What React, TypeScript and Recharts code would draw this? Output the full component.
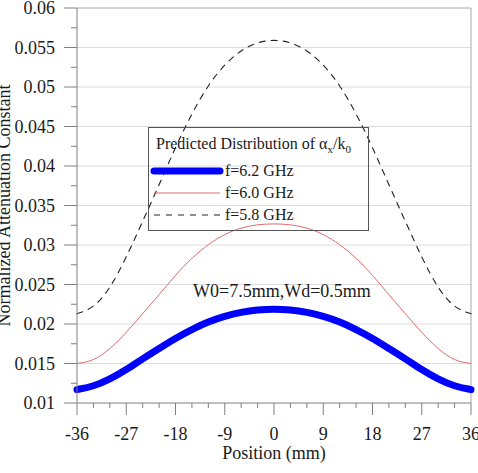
import { LineChart, Line, XAxis, YAxis, ReferenceLine, Legend } from "recharts";

// position across the slot (mm)
const positions = [
  -36, -33, -30, -27, -24, -21, -18, -15, -12, -9, -6, -3, 0, 3, 6, 9, 12, 15,
  18, 21, 24, 27, 30, 33, 36,
];

// normalized attenuation constant
const f62 = [
  0.0117, 0.0121, 0.013, 0.0142, 0.0156, 0.0169, 0.0182, 0.0193, 0.0203,
  0.021, 0.0215, 0.0218, 0.0219, 0.0218, 0.0215, 0.021, 0.0203, 0.0193,
  0.0182, 0.0169, 0.0156, 0.0142, 0.013, 0.0121, 0.0117,
];
const f60 = [
  0.015, 0.0153, 0.0168, 0.0189, 0.0213, 0.0237, 0.0262, 0.0284, 0.0301,
  0.0314, 0.0322, 0.0326, 0.0327, 0.0326, 0.0322, 0.0314, 0.0301, 0.0284,
  0.0262, 0.0237, 0.0213, 0.0189, 0.0168, 0.0153, 0.015,
];
const f58 = [
  0.0213, 0.022, 0.0244, 0.0284, 0.033, 0.0376, 0.0424, 0.0467, 0.0503,
  0.0529, 0.0547, 0.0557, 0.056, 0.0557, 0.0547, 0.0529, 0.0503, 0.0467,
  0.0424, 0.0376, 0.033, 0.0284, 0.0244, 0.022, 0.0213,
];

const xTicks = [
  -36, -33, -30, -27, -24, -21, -18, -15, -12, -9, -6, -3, 0, 3, 6, 9, 12, 15,
  18, 21, 24, 27, 30, 33, 36,
];
const xMajor = [-36, -27, -18, -9, 0, 9, 18, 27, 36];

const yTicks = [
  0.01, 0.0125, 0.015, 0.0175, 0.02, 0.0225, 0.025, 0.0275, 0.03, 0.0325,
  0.035, 0.0375, 0.04, 0.0425, 0.045, 0.0475, 0.05, 0.0525, 0.055, 0.0575,
  0.06,
];
const yMajor = [
  0.01, 0.015, 0.02, 0.025, 0.03, 0.035, 0.04, 0.045, 0.05, 0.055, 0.06,
];
const yLabels = [
  "0.01", "0.015", "0.02", "0.025", "0.03", "0.035", "0.04", "0.045", "0.05",
  "0.055", "0.06",
];

const series = [
  { key: "f62", name: "f=6.2 GHz", color: "#0000ff", width: 7, dash: undefined },
  { key: "f60", name: "f=6.0 GHz", color: "#e06a6a", width: 1, dash: undefined },
  { key: "f58", name: "f=5.8 GHz", color: "#222222", width: 1.1, dash: "6 6" },
];

const data = positions.map((pos, i) => ({
  pos,
  f62: f62[i],
  f60: f60[i],
  f58: f58[i],
}));

const AXIS = "#808080";
const TEXT = "#1a1a1a";

const XTick = (props: any) => {
  const { x, y, payload } = props;
  const major = xMajor.includes(payload.value);
  return (
    <g>
      <line x1={x} x2={x} y1={y} y2={y + (major ? 12 : 5)} stroke={AXIS} />
      {major && (
        <text x={x} y={y + 37} textAnchor="middle" fontSize={18} fill={TEXT}>
          {payload.value}
        </text>
      )}
    </g>
  );
};

const YTick = (props: any) => {
  const { x, y, payload } = props;
  const idx = yMajor.indexOf(payload.value);
  const major = idx >= 0;
  return (
    <g>
      <line x1={x - (major ? 13 : 6)} x2={x} y1={y} y2={y} stroke={AXIS} />
      {major && (
        <text x={x - 22} y={y + 6} textAnchor="end" fontSize={18} fill={TEXT}>
          {yLabels[idx]}
        </text>
      )}
    </g>
  );
};

const LegendBox = () => (
  <svg width={222} height={105} style={{ overflow: "visible" }}>
    <rect x={0.5} y={0.5} width={220} height={103} fill="none" stroke="#555" />
    <text x={8} y={22} fontSize={16} fill={TEXT}>
      Predicted Distribution of α
      <tspan dy={4} fontSize={11}>x</tspan>
      <tspan dy={-4}>/k</tspan>
      <tspan dy={4} fontSize={11}>0</tspan>
    </text>
    {series.map((s, i) => {
      const cy = 44 + i * 22;
      return (
        <g key={s.key}>
          <line
            x1={6}
            x2={72}
            y1={cy}
            y2={cy}
            stroke={s.color}
            strokeWidth={s.width}
            strokeDasharray={s.dash}
            strokeLinecap={s.width > 2 ? "round" : "butt"}
          />
          <text x={77} y={cy + 5} fontSize={16} fill={TEXT}>
            {s.name}
          </text>
        </g>
      );
    })}
  </svg>
);

export default function App() {
  return (
    <div
      style={{
        position: "absolute",
        left: 0,
        top: 0,
        width: 478,
        height: 473,
        background: "#fff",
        fontFamily: '"Liberation Serif", "Times New Roman", serif',
      }}
    >
      <LineChart
        width={478}
        height={473}
        data={data}
        margin={{ top: 8, right: 7, left: 0, bottom: 0 }}
      >
        <XAxis
          dataKey="pos"
          type="number"
          domain={[-36, 36]}
          ticks={xTicks}
          interval={0}
          height={70}
          tick={<XTick />}
          tickLine={false}
          tickSize={0}
          tickMargin={0}
          axisLine={{ stroke: AXIS }}
          label={{
            value: "Position (mm)",
            position: "insideBottom",
            offset: 14,
            style: { fontSize: 18, fill: TEXT },
          }}
        />
        <YAxis
          type="number"
          domain={[0.01, 0.06]}
          ticks={yTicks}
          interval={0}
          width={77}
          tick={<YTick />}
          tickLine={false}
          tickSize={0}
          tickMargin={0}
          axisLine={{ stroke: AXIS }}
          label={{
            value: "Normalized Attenuation Constant",
            angle: -90,
            position: "insideLeft",
            offset: 4,
            style: { fontSize: 18, fill: TEXT, textAnchor: "middle" },
          }}
        />
        {yMajor.slice(1).map((v) => (
          <ReferenceLine
            key={v}
            y={v}
            stroke={v === 0.06 ? "#a8a8a8" : "#dcdcdc"}
            ifOverflow="visible"
          />
        ))}
        <ReferenceLine x={36} stroke="#a8a8a8" ifOverflow="visible" />
        <Legend
          layout="horizontal"
          verticalAlign="middle"
          align="center"
          content={() => <LegendBox />}
          wrapperStyle={{ left: 148, top: 127, width: 222, height: 105 }}
        />
        {series
          .slice()
          .reverse()
          .map((s) => (
            <Line
              key={s.key}
              dataKey={s.key}
              name={s.name}
              type="basis"
              stroke={s.color}
              strokeWidth={s.width}
              strokeDasharray={s.dash}
              strokeLinecap="round"
              dot={false}
              activeDot={false}
              isAnimationActive={false}
            />
          ))}
      </LineChart>
      <svg
        width={478}
        height={473}
        style={{ position: "absolute", left: 0, top: 0, pointerEvents: "none" }}
      >
        <text x={193} y={297} fontSize={18} fill={TEXT}>
          W0=7.5mm,Wd=0.5mm
        </text>
      </svg>
    </div>
  );
}
